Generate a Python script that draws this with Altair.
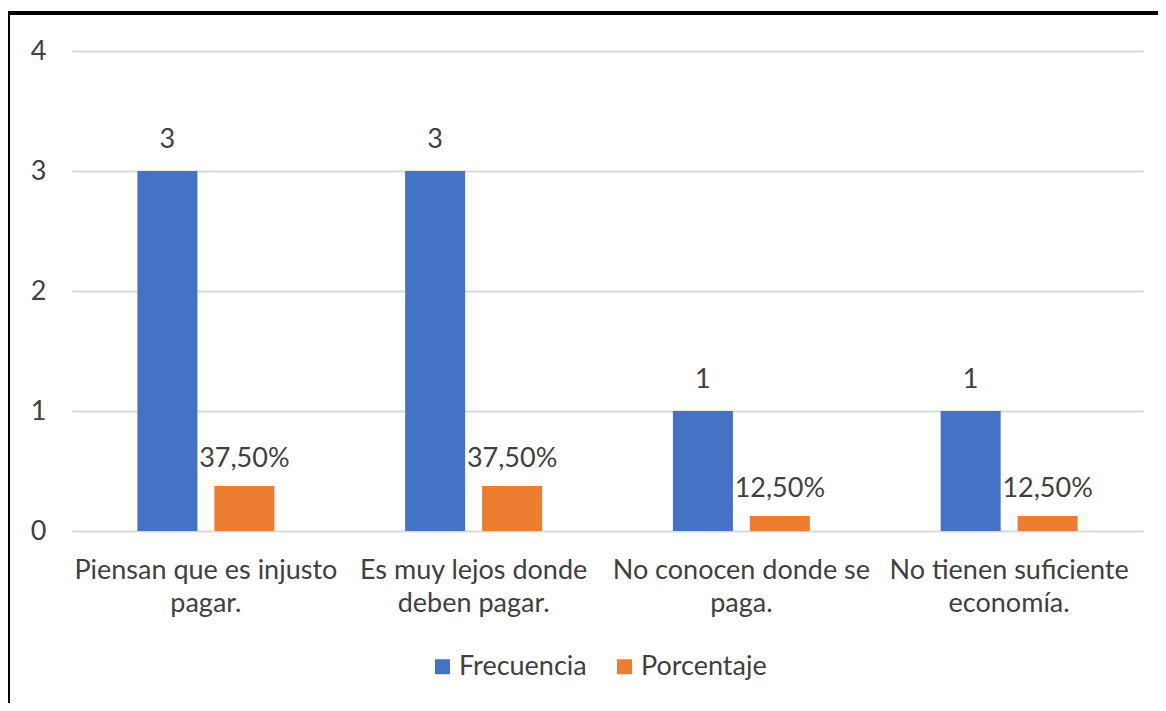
import json
import altair as alt
import pandas as pd

categories = [
    "Piensan que es injusto pagar.",
    "Es muy lejos donde deben pagar.",
    "No conocen donde se paga.",
    "No tienen suficiente economía.",
]
label_lines = [
    ["Piensan que es injusto", "pagar."],
    ["Es muy lejos donde", "deben pagar."],
    ["No conocen donde se", "paga."],
    ["No tienen suficiente", "economía."],
]
series = ["Frecuencia", "Porcentaje"]
frecuencia = [3, 3, 1, 1]
porcentaje = [0.375, 0.375, 0.125, 0.125]
colors = ["#4472C4", "#ED7D31"]
y_ticks = [0, 1, 2, 3, 4]

rows = []
for c, f, p in zip(categories, frecuencia, porcentaje):
    rows.append({"categoria": c, "serie": "Frecuencia", "valor": f, "etiqueta": str(f)})
    rows.append({"categoria": c, "serie": "Porcentaje", "valor": p,
                 "etiqueta": f"{p * 100:.2f}".replace(".", ",") + "%"})
df = pd.DataFrame(rows)

FONT = "Lato"
TXT = "#404040"
FS = 27
label_expr = json.dumps(dict(zip(categories, label_lines)), ensure_ascii=False) + "[datum.label]"

base = alt.Chart(df).encode(
    x=alt.X("categoria:N", sort=categories,
            scale=alt.Scale(paddingInner=0, paddingOuter=0),
            axis=alt.Axis(title=None, labelAngle=0, domain=False, ticks=False,
                          labelExpr=label_expr, labelFontSize=FS, labelPadding=26,
                          labelLineHeight=33, labelColor=TXT, labelFont=FONT, labelLimit=0)),
    xOffset=alt.XOffset("serie:N", sort=series,
                        scale=alt.Scale(paddingInner=0.22, paddingOuter=0.85)),
    y=alt.Y("valor:Q", scale=alt.Scale(domain=[0, 4]),
            axis=alt.Axis(values=y_ticks, title=None, domain=False, ticks=False, grid=True,
                          gridColor="#d9d9d9", gridWidth=2, labelFontSize=FS,
                          labelPadding=26, labelColor=TXT, labelFont=FONT)),
)

bars = base.mark_bar().encode(
    color=alt.Color("serie:N", scale=alt.Scale(domain=series, range=colors),
                    legend=alt.Legend(title=None, orient="none", legendX=357, legendY=602,
                                      direction="horizontal", symbolType="square",
                                      symbolSize=225, symbolStrokeWidth=0,
                                      labelFontSize=FS, labelFont=FONT, labelColor=TXT,
                                      labelOffset=3, columnPadding=24))
)

txt_f = base.mark_text(dy=-23, fontSize=FS, font=FONT, color=TXT, baseline="alphabetic").encode(
    text="etiqueta:N").transform_filter(alt.datum.serie == "Frecuencia")
txt_p = base.mark_text(dy=-19, fontSize=FS, font=FONT, color=TXT, baseline="alphabetic").encode(
    text="etiqueta:N").transform_filter(alt.datum.serie == "Porcentaje")

border_left = alt.Chart(df).mark_rule(color="black", strokeWidth=3).encode(
    x=alt.value(-64), y=alt.value(-38), y2=alt.value(700))
border_top = alt.Chart(df).mark_rule(color="black", strokeWidth=3).encode(
    x=alt.value(-64), x2=alt.value(1200), y=alt.value(-38))

chart = alt.layer(bars, txt_f, txt_p, border_left, border_top).properties(
    width=1071, height=480,
    autosize=alt.AutoSizeParams(type="none"),
    padding={"left": 64, "top": 43, "right": 15, "bottom": 172},
    background="white",
).configure_view(stroke=None)

chart.save("out.html", embed_options={"renderer": "svg", "actions": False})
